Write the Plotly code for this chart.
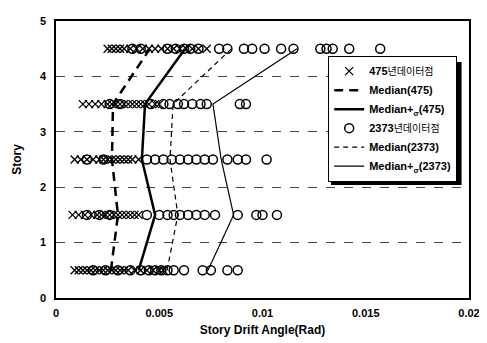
import plotly.graph_objects as go

# ---------------- data ----------------
stories = [0.5, 1.5, 2.5, 3.5, 4.5]
x_ticks = [0, 0.005, 0.01, 0.015, 0.02]
x_tick_labels = ["0", "0.005", "0.01", "0.015", "0.02"]
y_ticks = [0, 1, 2, 3, 4, 5]

# 475-year data points (x markers), per story
pts475_s1 = [0.0009, 0.0011, 0.0013, 0.0015, 0.0017, 0.0019, 0.0021, 0.0023, 0.0025, 0.0027,
             0.0029, 0.0031, 0.0033, 0.0035, 0.0038, 0.0041, 0.0044, 0.0047, 0.0050, 0.0052]
pts475_s2 = [0.0008, 0.0011, 0.0014, 0.0017, 0.0020, 0.0022, 0.0024, 0.0026, 0.0028, 0.0030,
             0.0032, 0.0034, 0.0036, 0.0038, 0.0040]
pts475_s3 = [0.0009, 0.0012, 0.0015, 0.0018, 0.0021, 0.0023, 0.0025, 0.0027, 0.0029, 0.0031,
             0.0033, 0.0035, 0.0037, 0.0040]
pts475_s4 = [0.0013, 0.0016, 0.0019, 0.0022, 0.0025, 0.0027, 0.0029, 0.0031, 0.0033, 0.0035,
             0.0037, 0.0039, 0.0041, 0.0043, 0.0045, 0.0048, 0.0050]
pts475_s5 = [0.0025, 0.0027, 0.0029, 0.0031, 0.0033, 0.0036, 0.0039, 0.0042, 0.0045, 0.0048,
             0.0051, 0.0054, 0.0057, 0.0060, 0.0063, 0.0066, 0.0069, 0.0073]

# 2373-year data points (open circles), per story
pts2373_s1 = [0.0018, 0.0024, 0.0030, 0.0036, 0.0041, 0.0045, 0.0048, 0.0051, 0.0054, 0.0057,
              0.0062, 0.0071, 0.0075, 0.0083, 0.0088]
pts2373_s2 = [0.0015, 0.0021, 0.0026, 0.0044, 0.0050, 0.0054, 0.0057, 0.0060, 0.0064, 0.0068,
              0.0072, 0.0077, 0.0088, 0.0097, 0.0100, 0.0107]
pts2373_s3 = [0.0015, 0.0023, 0.0044, 0.0048, 0.0052, 0.0056, 0.0060, 0.0064, 0.0068, 0.0072,
              0.0076, 0.0083, 0.0088, 0.0092, 0.0102]
pts2373_s4 = [0.0026, 0.0031, 0.0046, 0.0052, 0.0055, 0.0059, 0.0062, 0.0066, 0.0070, 0.0073,
              0.0089, 0.0092]
pts2373_s5 = [0.0037, 0.0041, 0.0054, 0.0058, 0.0062, 0.0065, 0.0069, 0.0079, 0.0083, 0.0091,
              0.0095, 0.0101, 0.0109, 0.0115, 0.0128, 0.0131, 0.0134, 0.0142, 0.0157]

median475 = [0.00266, 0.0030, 0.00271, 0.00276, 0.00455]
median_sigma475 = [0.0040, 0.0048, 0.00416, 0.00431, 0.00625]
median2373 = [0.00538, 0.0059, 0.00552, 0.00567, 0.0085]
median_sigma2373 = [0.00736, 0.0086, 0.0080, 0.0076, 0.01167]

names = [
    "<b>475</b><span style='font-size:10px;font-weight:normal'>년데이터점</span>",
    "Median(475)",
    "Median+<sub>σ</sub>(475)",
    "<b>2373</b><span style='font-size:10px;font-weight:normal'>년데이터점</span>",
    "Median(2373)",
    "Median+<sub>σ</sub>(2373)",
]

# ---------------- build ----------------
def flatten(groups):
    xs, ys = [], []
    for s, g in zip(stories, groups):
        xs += g
        ys += [s] * len(g)
    return xs, ys

x475, y475 = flatten([pts475_s1, pts475_s2, pts475_s3, pts475_s4, pts475_s5])
x2373, y2373 = flatten([pts2373_s1, pts2373_s2, pts2373_s3, pts2373_s4, pts2373_s5])

fig = go.Figure()
fig.add_trace(go.Scatter(x=x475, y=y475, mode="markers", name=names[0],
                         marker=dict(symbol="x-thin", size=8, color="black",
                                     line=dict(color="black", width=1.3))))
fig.add_trace(go.Scatter(x=median475, y=stories, mode="lines", name=names[1],
                         line=dict(color="black", width=2.5, dash="9px,6px")))
fig.add_trace(go.Scatter(x=median_sigma475, y=stories, mode="lines", name=names[2],
                         line=dict(color="black", width=2.5)))
fig.add_trace(go.Scatter(x=x2373, y=y2373, mode="markers", name=names[3],
                         marker=dict(symbol="circle-open", size=9, color="black",
                                     line=dict(color="black", width=1.5))))
fig.add_trace(go.Scatter(x=median2373, y=stories, mode="lines", name=names[4],
                         line=dict(color="black", width=1.2, dash="5px,4px")))
fig.add_trace(go.Scatter(x=median_sigma2373, y=stories, mode="lines", name=names[5],
                         line=dict(color="black", width=1.2)))

# legend drop shadow (right and bottom edges)
fig.add_shape(type="rect", xref="paper", yref="paper", layer="above",
              x0=0.666, x1=0.982, y0=0.408, y1=0.852,
              fillcolor="black", line=dict(width=0))

fig.update_layout(
    width=479, height=335,
    margin=dict(l=48, r=18, t=7, b=45),
    paper_bgcolor="white", plot_bgcolor="white",
    font=dict(family="Liberation Sans, Arial, Noto Sans CJK KR", size=11, color="black", weight="bold"),
    showlegend=True,
    legend=dict(x=0.659, y=0.875, xanchor="left", yanchor="top",
                bgcolor="white", bordercolor="black", borderwidth=1,
                font=dict(size=11), tracegroupgap=0, itemwidth=30),
    xaxis=dict(range=[0, 0.02], tickvals=x_ticks, ticktext=x_tick_labels,
               showgrid=False, zeroline=False, showline=True, linecolor="black",
               linewidth=1.5, mirror=True, ticks="", ticklabelstandoff=4,
               title=dict(text="Story Drift Angle(Rad)", standoff=8, font=dict(size=12))),
    yaxis=dict(range=[0, 5], tickvals=y_ticks, showgrid=True, gridcolor="#444",
               griddash="dash", gridwidth=1, zeroline=False, showline=True,
               linecolor="black", linewidth=1.5, mirror=True, ticks="", ticklabelstandoff=6,
               title=dict(text="Story", standoff=16, font=dict(size=12))),
)

fig.write_html("out.html")
